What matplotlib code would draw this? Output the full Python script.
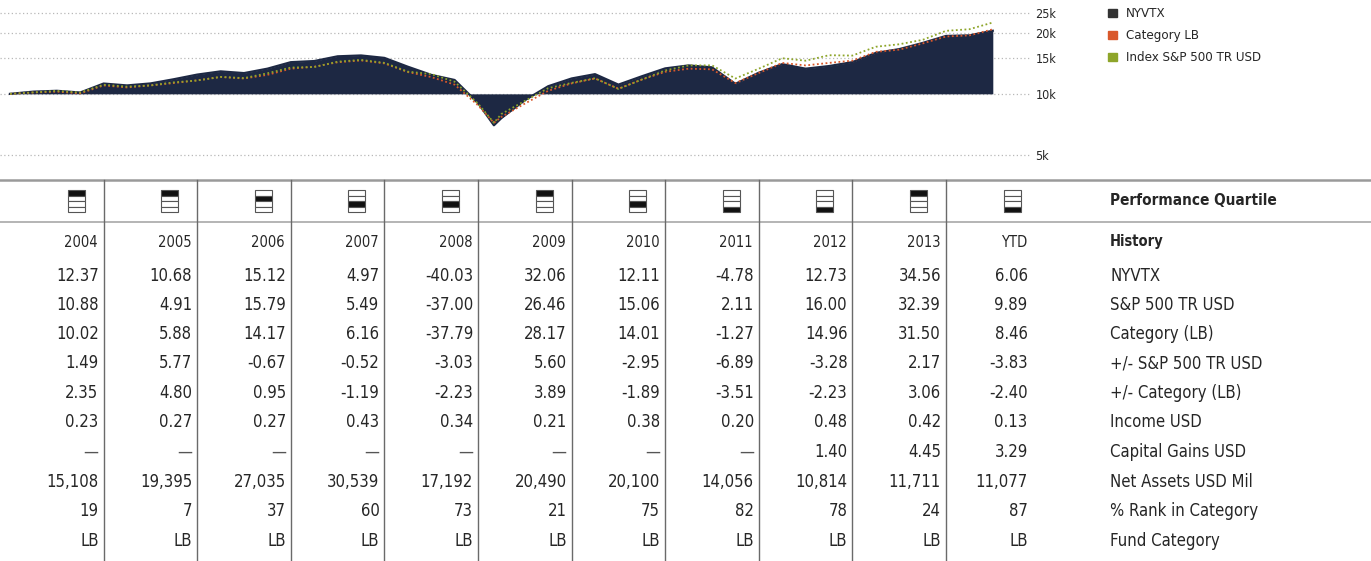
import matplotlib
matplotlib.use("Agg")
import matplotlib.pyplot as plt
from matplotlib import font_manager
from matplotlib.patches import Rectangle

# the scan uses a condensed grotesk, take a narrow face if one is installed
names = {f.name for f in font_manager.fontManager.ttflist}
if "Liberation Sans Narrow" in names:
    FONT, STRETCH = "Liberation Sans Narrow", "normal"
else:
    FONT, STRETCH = "DejaVu Sans", "condensed"
plt.rcParams["font.family"] = [FONT, "DejaVu Sans"]
plt.rcParams["font.stretch"] = STRETCH

# ---------------------------
# growth of 10k (quarter ends + the 2009 low)
# ---------------------------
dates = [2004.00, 2004.25, 2004.50, 2004.75, 2005.00, 2005.25, 2005.50, 2005.75,
         2006.00, 2006.25, 2006.50, 2006.75, 2007.00, 2007.25, 2007.50, 2007.75,
         2008.00, 2008.25, 2008.50, 2008.75, 2009.00, 2009.17, 2009.25, 2009.50,
         2009.75, 2010.00, 2010.25, 2010.50, 2010.75, 2011.00, 2011.25, 2011.50,
         2011.75, 2012.00, 2012.25, 2012.50, 2012.75, 2013.00, 2013.25, 2013.50,
         2013.75, 2014.00, 2014.25, 2014.50]
nyvtx = [10000, 10250, 10350, 10150, 11237, 11000, 11250, 11800,
         12437, 12900, 12650, 13300, 14317, 14500, 15300, 15450,
         15029, 13600, 12400, 11700, 9013, 7000, 7600, 9300,
         10900, 11903, 12500, 11100, 12200, 13344, 13800, 13500,
         11200, 12706, 14000, 13300, 13700, 14324, 15900, 16600,
         17800, 19274, 19400, 20442]
category = [10000, 10150, 10250, 10050, 11002, 10750, 11000, 11300,
            11649, 12100, 11900, 12400, 13300, 13600, 14300, 14600,
            14119, 12800, 12100, 11100, 8783, 7200, 7700, 8950,
            10350, 11257, 11900, 10600, 11750, 12834, 13300, 13200,
            11300, 12671, 14200, 13800, 14200, 14567, 16100, 16500,
            17700, 19155, 19400, 20781]
index_sp = [10000, 10170, 10340, 10150, 11088, 10850, 11000, 11390,
            11632, 12120, 11950, 12620, 13469, 13550, 14400, 14690,
            14208, 12860, 12510, 11470, 8951, 7200, 7960, 9220,
            10660, 11320, 11930, 10570, 11760, 13025, 13800, 13810,
            11900, 13300, 14970, 14560, 15490, 15428, 17050, 17540,
            18440, 20426, 20800, 22446]
y_ticks = [5000, 10000, 15000, 20000, 25000]
y_tick_labels = ["5k", "10k", "15k", "20k", "25k"]
legend_names = ["NYVTX", "Category LB", "Index S&P 500 TR USD"]

# ---------------------------
# history table
# ---------------------------
columns = ["2004", "2005", "2006", "2007", "2008", "2009", "2010", "2011", "2012", "2013", "YTD"]
quartile = [1, 1, 2, 3, 3, 1, 3, 4, 4, 1, 4]
nyvtx_ret = [12.37, 10.68, 15.12, 4.97, -40.03, 32.06, 12.11, -4.78, 12.73, 34.56, 6.06]
sp500_ret = [10.88, 4.91, 15.79, 5.49, -37.00, 26.46, 15.06, 2.11, 16.00, 32.39, 9.89]
category_ret = [10.02, 5.88, 14.17, 6.16, -37.79, 28.17, 14.01, -1.27, 14.96, 31.50, 8.46]
vs_sp500 = [1.49, 5.77, -0.67, -0.52, -3.03, 5.60, -2.95, -6.89, -3.28, 2.17, -3.83]
vs_category = [2.35, 4.80, 0.95, -1.19, -2.23, 3.89, -1.89, -3.51, -2.23, 3.06, -2.40]
income = [0.23, 0.27, 0.27, 0.43, 0.34, 0.21, 0.38, 0.20, 0.48, 0.42, 0.13]
cap_gains = [None, None, None, None, None, None, None, None, 1.40, 4.45, 3.29]
net_assets = [15108, 19395, 27035, 30539, 17192, 20490, 20100, 14056, 10814, 11711, 11077]
rank_in_cat = [19, 7, 37, 60, 73, 21, 75, 82, 78, 24, 87]
fund_category = ["LB"] * 11
row_labels = ["NYVTX", "S&P 500 TR USD", "Category (LB)", "+/- S&P 500 TR USD",
              "+/- Category (LB)", "Income USD", "Capital Gains USD",
              "Net Assets USD Mil", "% Rank in Category", "Fund Category"]


def money(v):
    return "\u2014" if v is None else f"{v:.2f}"


table_rows = [
    [money(v) for v in nyvtx_ret],
    [money(v) for v in sp500_ret],
    [money(v) for v in category_ret],
    [money(v) for v in vs_sp500],
    [money(v) for v in vs_category],
    [money(v) for v in income],
    [money(v) for v in cap_gains],
    [f"{v:,}" for v in net_assets],
    [str(v) for v in rank_in_cat],
    fund_category,
]

NAVY = "#1d2843"
ORANGE = "#d9582b"
GREEN = "#8ea52a"
INK = "#262626"

W, H = 1371, 561
fig = plt.figure(figsize=(W / 100, H / 100), dpi=100)

# ---------------------------
# growth chart (pixel box 0..1030 x 0..175)
# ---------------------------
ax = fig.add_axes([0, 1 - 175 / H, 1030 / W, 175 / H])
px_per_year = 93.6
ax.set_xlim(2004 - 10 / px_per_year, 2004 + 1020 / px_per_year)
ax.set_yscale("log")
ax.set_ylim(3985, 28970)
ax.fill_between(dates, nyvtx, 10000, color=NAVY, lw=0, zorder=2)
ax.plot(dates, nyvtx, color=NAVY, lw=1.6, zorder=3)
ax.plot(dates, category, color=ORANGE, lw=1.3, ls=(0, (1, 1.4)), zorder=4)
ax.plot(dates, index_sp, color=GREEN, lw=1.3, ls=(0, (1, 1.4)), zorder=4)
ax.set_yticks(y_ticks)
ax.set_yticklabels(y_tick_labels)
ax.minorticks_off()
ax.yaxis.tick_right()
ax.tick_params(axis="y", length=0, pad=4, labelsize=9, labelcolor=INK)
ax.set_xticks([])
ax.grid(axis="y", color="#b8b8b8", lw=0.9, ls=(0, (1, 2)), zorder=1)
for s in ax.spines.values():
    s.set_visible(False)

# ---------------------------
# overlay in pixel coords for legend + table
# ---------------------------
ov = fig.add_axes([0, 0, 1, 1])
ov.set_xlim(0, W)
ov.set_ylim(H, 0)
ov.axis("off")

for i, (name, col) in enumerate(zip(legend_names, ["#333333", ORANGE, GREEN])):
    yy = [13, 35, 57][i]
    ov.add_patch(Rectangle((1108, yy - 4), 8.5, 8, color=col))
    ov.text(1126, yy, name, fontsize=9.5, color=INK, va="center", ha="left")

# grid lines of the table
ov.plot([0, W], [180, 180], color="#9a9a9a", lw=1.8)
ov.plot([0, W], [222, 222], color="#a8a8a8", lw=1.2)
col_right = [10 + px_per_year * (i + 1) for i in range(len(columns))]
for xr in col_right[:-1]:
    ov.plot([xr, xr], [180, H], color="#6a6a6a", lw=1.0)

# quartile icons
for xr, q in zip(col_right, quartile):
    x0, y0, bw, bh = xr - 36, 190, 17, 5.5
    for b in range(4):
        filled = (b + 1) == q
        ov.add_patch(Rectangle((x0, y0 + b * bh), bw, bh,
                               facecolor="#111111" if filled else "white",
                               edgecolor="#555555", lw=0.8))

ov.text(1110, 200, "Performance Quartile", fontsize=11, weight="bold",
        color=INK, va="center", ha="left")
ov.text(1110, 241, "History", fontsize=10.5, weight="bold",
        color=INK, va="center", ha="left")

# years row
for i, (xr, lab) in enumerate(zip(col_right, columns)):
    pad = 12 if lab == "YTD" else 6
    ov.text(xr - pad, 242, lab, fontsize=10.5, color=INK, va="center", ha="right")

row_y = [276, 305, 334, 363, 393, 422, 452, 482, 511, 541]
for yy, vals, lab in zip(row_y, table_rows, row_labels):
    for i, (xr, v) in enumerate(zip(col_right, vals)):
        pad = 12 if i == len(columns) - 1 else 5
        col = "#555555" if v == "\u2014" else INK
        ov.text(xr - pad, yy, v, fontsize=12, color=col, va="center", ha="right")
    ov.text(1110, yy, lab, fontsize=12, color=INK, va="center", ha="left")

plt.savefig("out.png", dpi=100)
